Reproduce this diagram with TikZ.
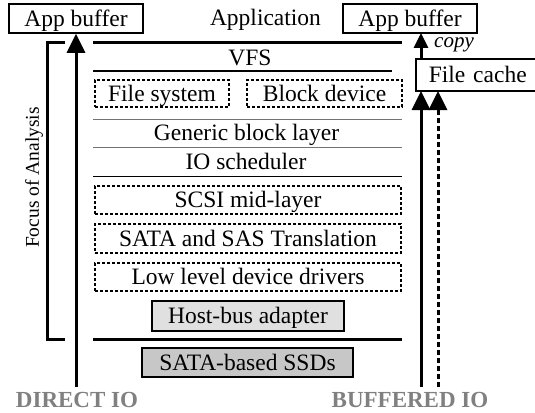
\documentclass[tikz,border=0pt]{standalone}
\usepackage{fontspec}
\setmainfont{Liberation Serif}
\usetikzlibrary{arrows.meta}
\begin{document}
\begin{tikzpicture}[x=1pt,y=-1pt,
  every node/.style={font=\fontsize{23.5}{26}\selectfont, inner sep=0pt, text height=17pt, text depth=1.5pt},
  solidbox/.style={draw, line width=1.6pt, rectangle},
  dashbox/.style={draw, line width=1.4pt, dash pattern=on 3pt off 2pt, rectangle},
  thickline/.style={line width=3pt},
  sepline/.style={line width=1.3pt},
  bigarrow/.style={line width=3pt, -{Triangle[width=18pt,length=19pt]}},
  smallarrow/.style={line width=3pt, -{Triangle[width=14pt,length=15pt]}},
  iolabel/.style={font=\fontsize{23}{26}\selectfont\bfseries, text=black!50}
]
\useasboundingbox (0,0) rectangle (535,412);

% top boxes
\node[solidbox, minimum width=134pt, minimum height=29pt] (appL) at (76,18.5) {App buffer};
\node[solidbox, minimum width=134pt, minimum height=29pt] (appR) at (410,18.5) {App buffer};
\node (appl) at (265.5,18) {Application};

% layer lines
\coordinate (t1) at (93,43); \coordinate (t2) at (402,43);
\draw[thickline] (t1) -- (t2);
\node (vfs) at (250,57.5) {VFS};
\coordinate (l1a) at (93,71); \coordinate (l1b) at (392,71);
\draw[sepline] (l1a) -- (l1b);

\node[dashbox, minimum width=134pt, minimum height=27pt] (fs) at (162,93.5) {File system};
\node[dashbox, minimum width=155pt, minimum height=27pt] (bd) at (324.5,93.5) {Block device};

\coordinate (l2a) at (93,119.5); \coordinate (l2b) at (402,119.5);
\draw[sepline, black!55] (l2a) -- (l2b);
\node (gbl) at (246.5,133) {Generic block layer};
\coordinate (l3a) at (93,147.5); \coordinate (l3b) at (402,147.5);
\draw[sepline, black!55] (l3a) -- (l3b);
\node (ios) at (246,161.5) {IO scheduler};
\coordinate (l4a) at (93,176.5); \coordinate (l4b) at (402,176.5);
\draw[sepline] (l4a) -- (l4b);

\node[dashbox, minimum width=306pt, minimum height=28pt] (scsi) at (248,200) {SCSI mid-layer};
\node[dashbox, minimum width=306pt, minimum height=29pt] (sata) at (248,238.5) {SATA and SAS Translation};
\node[dashbox, minimum width=306pt, minimum height=28pt] (lld) at (248,277) {Low level device drivers};

\node[solidbox, fill=black!12, minimum width=192pt, minimum height=30pt] (hba) at (248,316) {Host-bus adapter};
\coordinate (b1) at (93,339); \coordinate (b2) at (402,339);
\draw[thickline] (b1) -- (b2);
\node[solidbox, fill=black!22, minimum width=211pt, minimum height=29pt] (ssd) at (247.5,362.5) {SATA-based SSDs};

% focus bracket
\coordinate (f1) at (65,43); \coordinate (f2) at (47,43);
\coordinate (f3) at (47,339); \coordinate (f4) at (65,339);
\draw[thickline] (f1) -- (f2) -- (f3) -- (f4);
\node[rotate=90, font=\fontsize{19.5}{22}\selectfont, text height=13pt, text depth=1.5pt] (focus) at (33,177.5) {Focus of Analysis};

% direct IO
\coordinate (dstart) at (76,387);
\draw[bigarrow] (dstart) -- (appL.south);
\node[iolabel] (dio) at (77,400) {DIRECT IO};

% file cache
\node[solidbox, anchor=west, minimum height=32pt, text width=119pt, inner xsep=13pt, align=left] (fc) at (415,75) {File cache};

% buffered IO
\coordinate (bs1) at (421,387);
\coordinate (bs2) at (438,387);
\coordinate (fcb1) at (421,91);
\coordinate (fcb2) at (438,91);
\coordinate (fcm) at (438,110);
\coordinate (fct) at (421,59);
\coordinate (apb) at (421,33);
\draw[bigarrow] (bs1) -- (fcb1);
\draw[line width=3pt, dash pattern=on 5pt off 3pt] (bs2) -- (fcm);
\draw[bigarrow] (fcm) -- (fcb2);
\draw[smallarrow] (fct) -- (apb);
\node[font=\fontsize{21}{24}\selectfont\itshape, text height=10pt, text depth=4pt] (copy) at (454,45) {copy};
\node[iolabel] (bio) at (410,400) {BUFFERED IO};
\end{tikzpicture}
\end{document}
